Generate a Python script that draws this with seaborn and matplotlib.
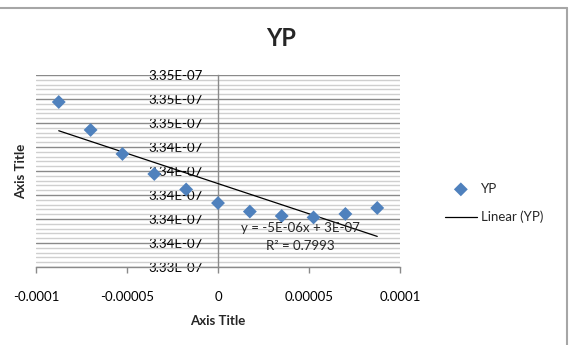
import matplotlib
matplotlib.use("Agg")
import matplotlib.pyplot as plt
from matplotlib.lines import Line2D
from matplotlib.ticker import MultipleLocator, FuncFormatter
import numpy as np
import pandas as pd
import seaborn as sns

# Series data
x_values = [-8.75e-5, -7.0e-5, -5.25e-5, -3.5e-5, -1.75e-5, 0.0,
            1.75e-5, 3.5e-5, 5.25e-5, 7.0e-5, 8.75e-5]
yp_values = [3.34775e-7, 3.34542e-7, 3.34342e-7, 3.34175e-7, 3.34046e-7,
             3.33933e-7, 3.33862e-7, 3.33825e-7, 3.33813e-7, 3.33842e-7,
             3.33892e-7]

x_ticks = [-0.0001, -0.00005, 0, 0.00005, 0.0001]
x_tick_labels = ["-0.0001", "-0.00005", "0", "0.00005", "0.0001"]
y_min, y_max = 3.334e-7, 3.350e-7
y_major, y_minor = 2e-10, 4e-11

title = "YP"
series_name = "YP"
trend_name = "Linear (YP)"
eq_text = "y = -5E-06x + 3E-07"
r2_text = "R² = 0.7993"

df = pd.DataFrame({"x": x_values, "YP": yp_values})

sns.set_theme(style="white")
plt.rcParams["font.family"] = ["Lato", "DejaVu Sans"]

W, H = 573, 345
fig = plt.figure(figsize=(W / 100, H / 100), dpi=100)
fig.patch.set_facecolor("white")

L, R, T, B = 36, 400, 75, 267
ax = fig.add_axes([L / W, 1 - B / H, (R - L) / W, (B - T) / H])
ax.set_facecolor("white")

blue = "#4F81BD"
fs = 9.5
sns.regplot(data=df, x="x", y="YP", ax=ax, scatter=False, ci=None,
            color="black", line_kws={"linewidth": 0.9, "zorder": 3})
trend_line = ax.lines[-1]
trend_line.set_label(trend_name)
sns.scatterplot(data=df, x="x", y="YP", ax=ax, marker="D", s=50,
                color=blue, edgecolor="none", linewidth=0, label=series_name,
                zorder=4)
points = ax.collections[-1]

ax.set_xlim(-0.0001, 0.0001)
ax.set_ylim(y_min, y_max)

# Horizontal gridlines, major and minor
ax.yaxis.set_major_locator(MultipleLocator(y_major))
ax.yaxis.set_minor_locator(MultipleLocator(y_minor))
ax.grid(False)
ax.grid(axis="y", which="major", color="#8a8a8a", linewidth=1.0, zorder=0)
ax.grid(axis="y", which="minor", color="#cfcfcf", linewidth=1.0, zorder=0)
ax.set_axisbelow(True)

ax.yaxis.set_major_formatter(FuncFormatter(lambda v, p: f"{v:.2E}"))

# Vertical axis crosses at x = 0
for side in ("top", "right"):
    ax.spines[side].set_visible(False)
ax.spines["left"].set_position(("data", 0))
ax.spines["left"].set_color("#8a8a8a")
ax.spines["left"].set_linewidth(1.0)
ax.spines["bottom"].set_color("#8a8a8a")
ax.spines["bottom"].set_linewidth(1.0)

ax.set_xticks(x_ticks)
ax.set_xticklabels(x_tick_labels)
ax.tick_params(axis="x", which="major", direction="out", length=4,
               width=1.0, color="#8a8a8a", pad=13, labelsize=fs,
               labelcolor="black", bottom=True)
ax.tick_params(axis="y", which="both", length=0, pad=11, labelsize=fs,
               labelcolor="black", left=True)

ax.set_xlabel("Axis Title", fontsize=fs, fontweight="bold", labelpad=9)
ax.set_ylabel("Axis Title", fontsize=fs, fontweight="bold")
ax.yaxis.set_label_coords(-0.025, 0.5)

fig.text(281 / W, 1 - 38 / H, title, ha="center",
         va="center", fontsize=17, fontweight="bold")

ax.text(0.725, (B - 228) / (B - T), eq_text, transform=ax.transAxes,
        ha="center", va="center", fontsize=fs, zorder=5)
ax.text(0.725, (B - 246) / (B - T), r2_text, transform=ax.transAxes,
        ha="center", va="center", fontsize=fs, zorder=5)

if ax.get_legend() is not None:
    ax.get_legend().remove()
fig.legend([points, trend_line], [series_name, trend_name],
           loc="center left", bbox_to_anchor=(445 / W, 1 - 203 / H),
           frameon=False, fontsize=fs, handlelength=2.4,
           handletextpad=0.3, labelspacing=1.2, borderpad=0,
           borderaxespad=0)

# Chart frame edges
fig.add_artist(Line2D([0, 567 / W], [1 - 8 / H, 1 - 8 / H],
                      transform=fig.transFigure, color="#a6a6a6", lw=1.5))
fig.add_artist(Line2D([567 / W, 567 / W], [0, 1 - 8 / H],
                      transform=fig.transFigure, color="#a6a6a6", lw=1.5))

fig.savefig("out.png", dpi=100, facecolor="white")
